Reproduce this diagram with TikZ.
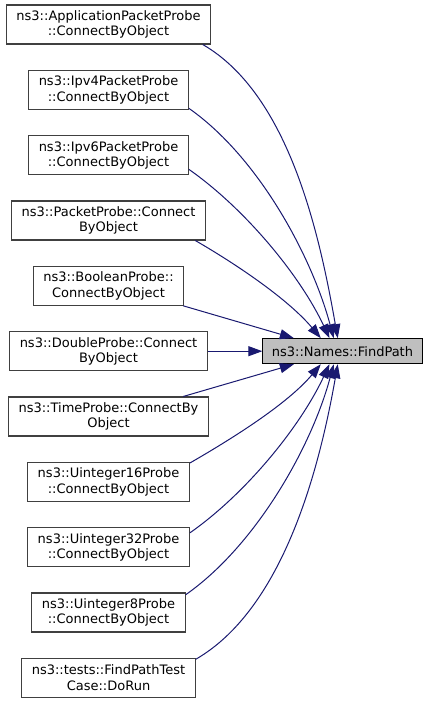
\documentclass[tikz,border=0pt]{standalone}
\usepackage{fontspec}
\setmainfont{DejaVu Sans}
\usetikzlibrary{arrows.meta}
\definecolor{callblue}{RGB}{25,25,112}
\definecolor{boxgray}{RGB}{191,191,191}
\definecolor{boxline}{RGB}{64,64,64}

\begin{document}
\begin{tikzpicture}[x=0.75pt, y=0.75pt,
    fn/.style={draw=boxline, line width=0.8pt, fill=white, align=center, inner xsep=7.6pt, inner ysep=2pt, minimum height=29.25pt, font=\fontsize{9.75}{11.5}\selectfont},
    callee/.style={fn, draw=black, fill=boxgray, inner xsep=6.8pt, minimum height=18.75pt},
    call/.style={draw=callblue, line width=0.75pt, -{Triangle[length=10.5pt, width=7.5pt]}}
]
    \useasboundingbox (0,0) rectangle (429,704);

    % Function whose callers are shown
    \node[callee] (fp) at (342.5,352.8) {ns3::Names::FindPath};

    % Probe callers
    \node[fn] (app) at (108.5,679.5) {ns3::ApplicationPacketProbe\\::ConnectByObject};
    \node[fn] (ipv4) at (108.5,614.2) {ns3::Ipv4PacketProbe\\::ConnectByObject};
    \node[fn] (ipv6) at (108.5,548.8) {ns3::Ipv6PacketProbe\\::ConnectByObject};
    \node[fn] (pkt) at (108.5,483.5) {ns3::PacketProbe::Connect\\ByObject};
    \node[fn] (bool) at (108.5,418.2) {ns3::BooleanProbe::\\ConnectByObject};
    \node[fn] (dbl) at (108.5,352.8) {ns3::DoubleProbe::Connect\\ByObject};
    \node[fn] (time) at (108.5,287.5) {ns3::TimeProbe::ConnectBy\\Object};
    \node[fn] (u16) at (108.5,222.2) {ns3::Uinteger16Probe\\::ConnectByObject};
    \node[fn] (u32) at (108.5,156.8) {ns3::Uinteger32Probe\\::ConnectByObject};
    \node[fn] (u8) at (108.5,91.5) {ns3::Uinteger8Probe\\::ConnectByObject};

    % Test case caller
    \node[fn] (test) at (108.5,26.2) {ns3::tests::FindPathTest\\Case::DoRun};

    % Calls into FindPath
    \draw[call] (app.-12) to[out=-30, in=100, looseness=0.8] (fp.110);
    \draw[call] (ipv4.-13) to[out=-35, in=105, looseness=0.8] (fp.124);
    \draw[call] (ipv6.-10) to[out=-35, in=115, looseness=0.8] (fp.135);
    \draw[call] (pkt.-13) to[out=-30, in=130, looseness=0.8] (fp.149);
    \draw[call] (bool.-15) -- (fp.165);
    \draw[call] (dbl) -- (fp);
    \draw[call] (time.15) -- (fp.-165);
    \draw[call] (u16.13) to[out=30, in=-130, looseness=0.8] (fp.-149);
    \draw[call] (u32.10) to[out=35, in=-115, looseness=0.8] (fp.-135);
    \draw[call] (u8.13) to[out=35, in=-105, looseness=0.8] (fp.-124);
    \draw[call] (test.12) to[out=30, in=-100, looseness=0.8] (fp.-110);
\end{tikzpicture}
\end{document}
